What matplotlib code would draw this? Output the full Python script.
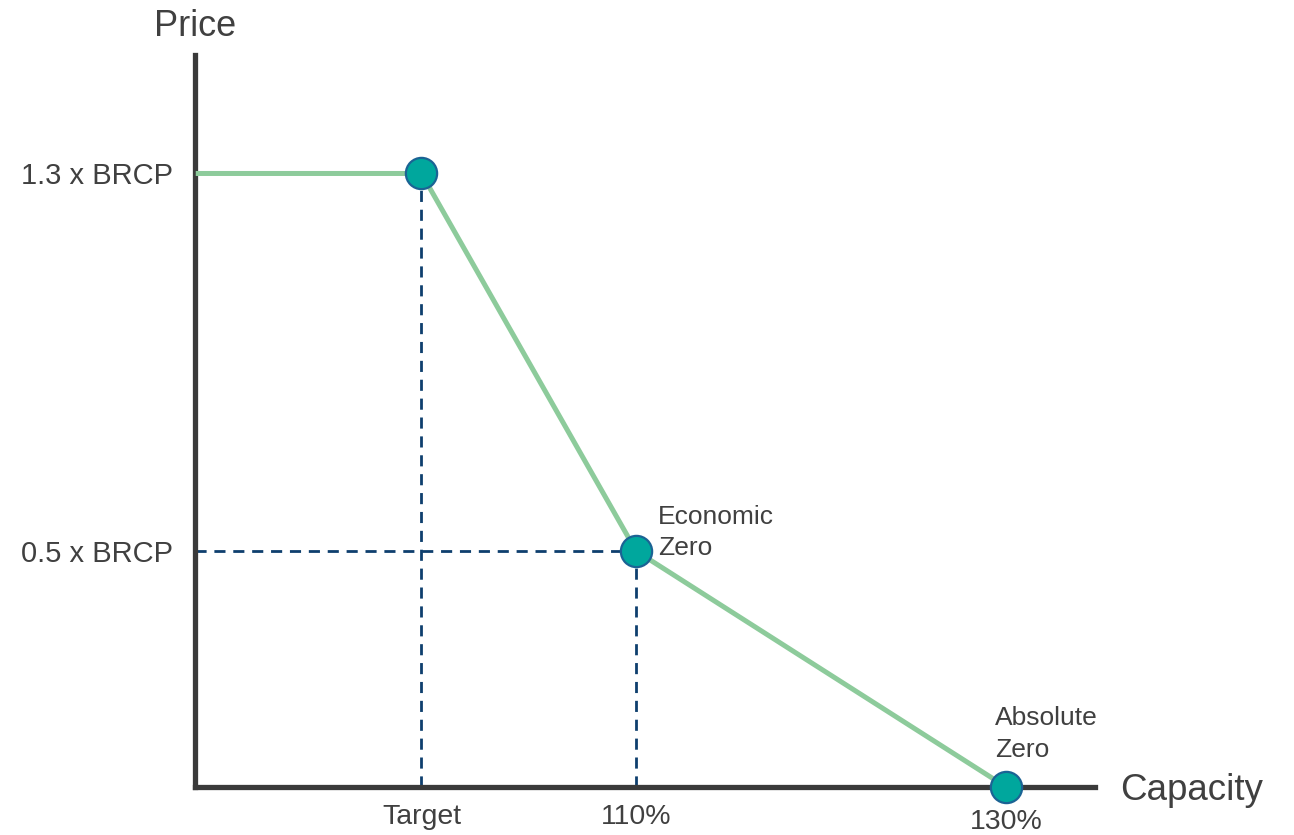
import matplotlib
matplotlib.use("Agg")
import matplotlib.pyplot as plt
from matplotlib.transforms import ScaledTranslation

plt.rcParams['font.family'] = ['Liberation Sans', 'DejaVu Sans']

# capacity (% of requirement) and price (x BRCP)
capacity = [86.2, 98.4, 110, 130]
price = [1.3, 1.3, 0.5, 0.0]

xtick_pos = [98.4, 110, 130]
xtick_labels = ["Target", "110%", "130%"]
ytick_pos = [0.5, 1.3]
ytick_labels = ["0.5 x BRCP", "1.3 x BRCP"]

text_col = "#404040"
line_col = "#8DCB9B"
dot_col = "#00A79D"
edge_col = "#1B6394"
dash_col = "#0E3F6E"

fig = plt.figure(figsize=(12.94, 8.35), dpi=100)
ax = fig.add_axes([0.1507, 0.0575, 0.6955, 0.8766])
ax.set_xlim(86.16, 134.8)
ax.set_ylim(0, 1.551)

# guide lines
dash_kw = dict(color=dash_col, lw=2.0, dashes=(4.0, 2.8), zorder=2)
ax.plot([capacity[1], capacity[1]], [0, price[1]], **dash_kw)
ax.plot([capacity[2], capacity[2]], [0, price[2]], **dash_kw)
ax.plot([86.16, capacity[2]], [price[2], price[2]], **dash_kw)

ax.plot(capacity, price, color=line_col, lw=3.6, solid_capstyle='butt', zorder=3)
ax.plot(capacity[1:], price[1:], 'o', ms=22.5, mfc=dot_col, mec=edge_col,
        mew=1.6, zorder=5, clip_on=False)

for s in ['top', 'right']:
    ax.spines[s].set_visible(False)
for s in ['left', 'bottom']:
    ax.spines[s].set_linewidth(3.8)
    ax.spines[s].set_color("#3A3A3A")

ax.set_xticks(xtick_pos)
ax.set_xticklabels(xtick_labels)
ax.set_yticks(ytick_pos)
ax.set_yticklabels(ytick_labels)
ax.tick_params(axis='x', length=0, pad=12, labelsize=20.5, labelcolor=text_col)
ax.tick_params(axis='y', length=0, pad=16, labelsize=21, labelcolor=text_col)
last = ax.get_xticklabels()[-1]
last.set_transform(last.get_transform() + ScaledTranslation(0, -5 / 100, fig.dpi_scale_trans))

ax.annotate("Economic\nZero", (capacity[2], price[2]), xytext=(15.5, 33),
            textcoords='offset points', ha='left', va='top', fontsize=19,
            color=text_col, linespacing=1.38)
ax.annotate("Absolute\nZero", (capacity[3], price[3]), xytext=(-8, 58),
            textcoords='offset points', ha='left', va='top', fontsize=19,
            color=text_col, linespacing=1.38)

fig.text(195 / 1294, 1 - 36 / 835, "Price", ha='center', va='baseline',
         fontsize=26, color=text_col)
fig.text(1120 / 1294, 1 - 800 / 835, "Capacity", ha='left', va='baseline',
         fontsize=26.5, color=text_col)

fig.savefig("out.png", dpi=100)
